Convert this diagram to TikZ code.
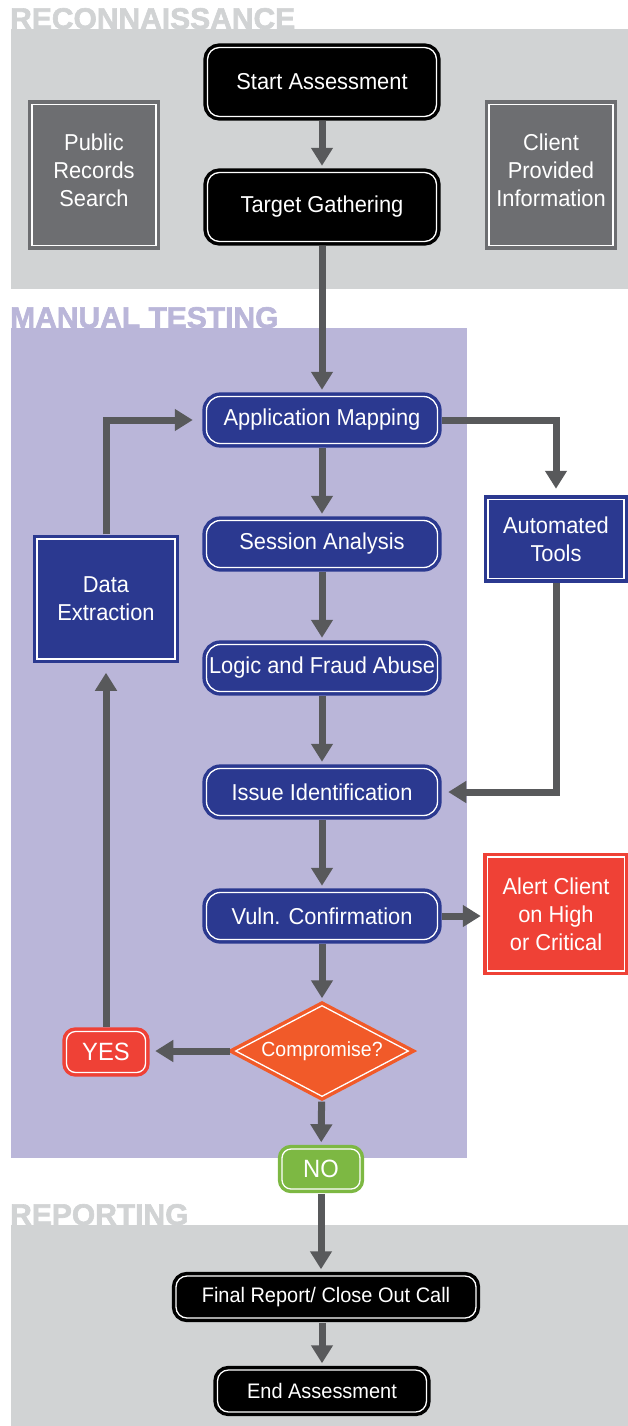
\documentclass[tikz,border=0pt]{standalone}
\usepackage{fontspec}
\setmainfont{Liberation Sans}[FakeStretch=0.95]
\newfontfamily\headfont{Liberation Sans}[BoldFeatures={FakeBold=2}]
\usepackage{tikz}
\usetikzlibrary{arrows.meta,shapes.geometric,calc}
\definecolor{pgray}{RGB}{209,211,212}
\definecolor{plav}{RGB}{186,182,217}
\definecolor{dkbox}{RGB}{109,110,113}
\definecolor{csnavy}{RGB}{43,57,144}
\definecolor{alertred}{RGB}{239,65,54}
\definecolor{decorange}{RGB}{241,90,41}
\definecolor{okgreen}{RGB}{125,184,67}
\definecolor{arrgray}{RGB}{88,89,91}
\tikzset{
  dbl/.style={double=white, double distance=1.3pt, line width=3.5pt, inner sep=0pt, text=white, align=center},
  blackbox/.style={dbl, draw=black, fill=black, rounded corners=12pt, minimum width=229pt, minimum height=69pt, font=\fontsize{23}{28}\selectfont},
  repbox/.style={dbl, draw=black, fill=black, rounded corners=11pt, minimum height=42pt, font=\fontsize{21}{26}\selectfont},
  graybox/.style={dbl, draw=dkbox, fill=dkbox, minimum width=124pt, minimum height=141pt, font=\fontsize{23}{28}\selectfont},
  navybox/.style={dbl, draw=csnavy, fill=csnavy, rounded corners=14pt, minimum width=231pt, minimum height=47pt, font=\fontsize{23}{28}\selectfont},
  navyrect/.style={dbl, draw=csnavy, fill=csnavy, font=\fontsize{23}{28}\selectfont},
  alertbox/.style={dbl, draw=alertred, fill=alertred, minimum width=137pt, minimum height=114pt, font=\fontsize{23}{28}\selectfont},
  decision/.style={dbl, draw=decorange, fill=decorange, shape=diamond, aspect=1.9, minimum width=174pt, minimum height=92pt, font=\fontsize{20.5}{24}\selectfont},
  answer/.style={dbl, rounded corners=9pt, minimum width=79pt, minimum height=41pt, font=\fontsize{25}{30}\selectfont},
  head/.style={inner sep=0pt, anchor=base west, font=\headfont\bfseries\fontsize{30}{30}\selectfont},
  arr/.style={arrgray, line width=7pt, -{Triangle[width=21pt,length=18pt]}, shorten <=3pt, shorten >=5pt},
}
\begin{document}
\begin{tikzpicture}[x=1pt,y=-1pt]
  \useasboundingbox (0,0) rectangle (628,1426);
  % phase panels
  \fill[pgray] (11,29) rectangle (628,289);
  \fill[plav] (11,328) rectangle (467,1158);
  \fill[pgray] (11,1225) rectangle (628,1426);
  \node[head, text=pgray] (hrecon) at (10,29) {RECONNAISSANCE};
  \node[head, text=plav] (hmanual) at (10,328) {MANUAL TESTING};
  \node[head, text=pgray] (hreport) at (10,1225) {REPORTING};

  \node[blackbox] (start) at (322,82) {Start Assessment};
  \node[blackbox] (target) at (322,207) {Target Gathering};
  \node[graybox] (public) at (94,175) {Public\\Records\\Search\\[-18pt]};
  \node[graybox] (client) at (551,175) {Client\\Provided\\Information\\[-18pt]};

  \node[navybox] (appmap) at (322,420) {Application Mapping};
  \node[navybox] (session) at (322,544) {Session Analysis};
  \node[navybox] (logic) at (322,668) {Logic and Fraud Abuse};
  \node[navybox] (issue) at (322,792) {Issue Identification};
  \node[navybox] (vuln) at (322,916) {Vuln. Confirmation};
  \node[navyrect, minimum width=136pt, minimum height=79pt] (tools) at (556,539) {Automated\\Tools};
  \node[navyrect, minimum width=138pt, minimum height=120pt] (extract) at (106,599) {Data\\Extraction};
  \node[alertbox] (alert) at (556,914) {Alert Client\\on High\\or Critical};
  \node[decision] (comp) at (322,1051) {Compromise?};
  \node[answer, draw=alertred, fill=alertred] (yes) at (106,1052) {YES};
  \node[answer, draw=okgreen, fill=okgreen, minimum width=78pt, minimum height=40pt] (no) at (321,1169) {NO};

  \node[repbox, minimum width=300pt] (final) at (326,1297) {Final Report/ Close Out Call};
  \node[repbox, minimum width=209pt] (finish) at (322,1391) {End Assessment};

  % flow
  \draw[arr] (start) -- (target);
  \draw[arr] (target) -- (appmap);
  \draw[arr] (appmap) -- (session);
  \draw[arr] (session) -- (logic);
  \draw[arr] (logic) -- (issue);
  \draw[arr] (issue) -- (vuln);
  \draw[arr] (vuln) -- (comp);
  \draw[arr] (comp) -- (no);
  \draw[arr] (no.south) -- (no.south |- final.north);
  \draw[arr] (final.south -| finish) -- (finish);
  \draw[arr, shorten >=9pt] (appmap.east) -| (tools.north);
  \draw[arr, shorten >=9pt] (tools.south) |- (issue.east);
  \draw[arr] (vuln.east) -- (vuln.east -| alert.west);
  \draw[arr, shorten >=8pt] (comp.west) -- (comp.west -| yes.east);
  \draw[arr, shorten >=12pt] (yes) -- (extract);
  \draw[arr, shorten >=12pt] (extract.north) |- (appmap.west);
\end{tikzpicture}
\end{document}
